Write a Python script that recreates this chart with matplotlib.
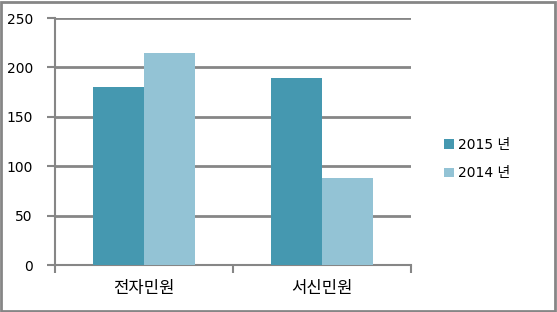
import numpy as np
import matplotlib.pyplot as plt
from matplotlib.patches import Rectangle

plt.rcParams['font.family'] = ['DejaVu Sans', 'Noto Sans CJK KR']

categories = ['전자민원', '서신민원']
series_names = ['2015 년', '2014 년']
values_2015 = [180, 189]
values_2014 = [215, 88]
colors = ['#4598b0', '#93c3d5']

fig = plt.figure(figsize=(5.57, 3.12), dpi=100)
ax = fig.add_axes([0.0987, 0.1506, 0.6393, 0.7914])

x = np.arange(len(categories))
w = 0.286
ax.bar(x - w / 2, values_2015, w, color=colors[0], label=series_names[0], zorder=3)
ax.bar(x + w / 2, values_2014, w, color=colors[1], label=series_names[1], zorder=3)

ax.set_xlim(-0.5, 1.5)
ax.set_ylim(0, 250)
ax.set_yticks(range(0, 251, 50))
ax.yaxis.grid(True, color='#868686', linewidth=2, zorder=1)

for s in ['top', 'right']:
    ax.spines[s].set_visible(False)
for s in ['left', 'bottom']:
    ax.spines[s].set_color('#868686')
    ax.spines[s].set_linewidth(1.5)

ax.set_xticks([-0.5, 0.5, 1.5])
ax.set_xticklabels([])
ax.set_xticks(x, minor=True)
ax.set_xticklabels(categories, minor=True, fontsize=12, family=['Noto Sans CJK KR'])
ax.tick_params(axis='x', which='major', length=6, width=1.5, color='#868686')
ax.tick_params(axis='x', which='minor', length=0, pad=11)
ax.tick_params(axis='y', length=6, width=1.5, color='#868686', labelsize=10, pad=10)

ax.legend(loc='center left', bbox_to_anchor=(0.775, 0.49), bbox_transform=fig.transFigure,
          frameon=False, fontsize=10, handlelength=0.7, handleheight=0.7,
          handletextpad=0.3, labelspacing=1.05)

fig.patches.append(Rectangle((0.002, 0.003), 0.994, 0.992, transform=fig.transFigure,
                             fill=False, edgecolor='#868686', linewidth=2))

fig.savefig('out.png', dpi=100)
